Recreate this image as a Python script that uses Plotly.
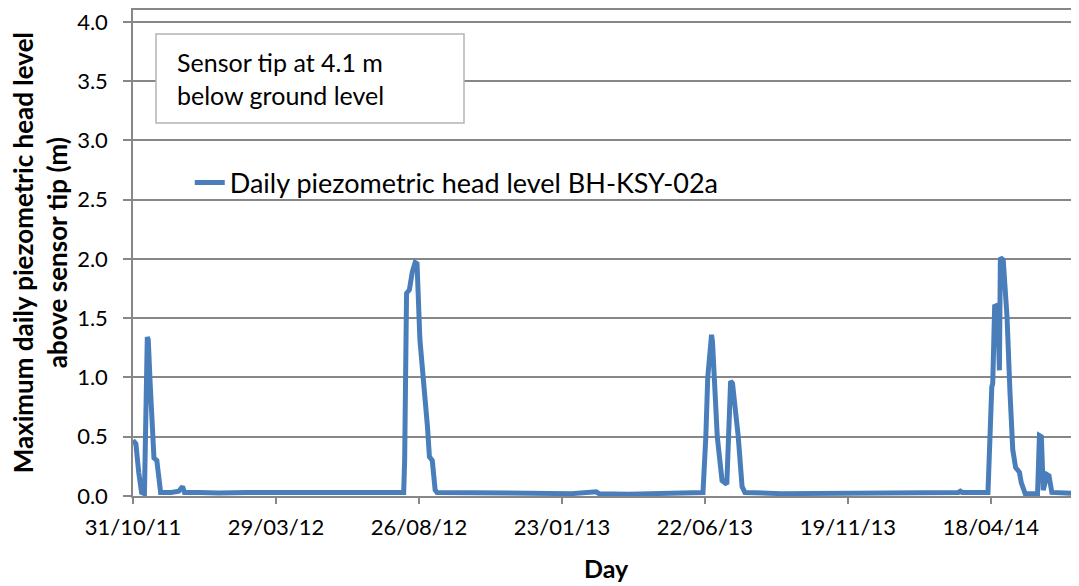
import pandas as pd
import plotly.graph_objects as go

# days since the first reading (31/10/11) and the maximum daily head (m)
start_date = "2011-10-31"
day_offset = [
    0, 3, 6, 9, 12, 13, 15, 16, 18, 21, 22, 25, 27, 29, 40, 48, 52, 54, 70, 90,
    120, 150, 180, 210, 240, 270, 283,
    284, 285, 287, 290, 293, 296, 298, 301, 304, 308, 309, 311, 314, 317, 319,
    340, 380, 420, 460, 486, 489, 520, 560, 597,
    598, 601, 603, 607, 608, 613, 618, 623, 627, 629, 635, 639, 642,
    680, 720, 760, 800, 840, 866, 868, 870, 896,
    897, 901, 902, 904, 907, 909, 910, 913, 917, 920, 923, 926, 930, 932, 936,
    949, 951, 953, 955, 959, 961, 964, 980, 995,
]
head_level = [
    0.47, 0.44, 0.20, 0.03, 0.02, 0.45, 1.34, 1.32, 0.95, 0.48, 0.32, 0.30, 0.15, 0.03, 0.03, 0.04, 0.08, 0.03, 0.03, 0.025,
    0.03, 0.03, 0.03, 0.035, 0.03, 0.035, 0.03,
    0.03, 0.30, 1.71, 1.74, 1.89, 1.97, 1.96, 1.32, 0.98, 0.67, 0.58, 0.33, 0.30, 0.05, 0.03,
    0.03, 0.03, 0.025, 0.02, 0.035, 0.02, 0.015, 0.02, 0.02,
    0.03, 0.50, 1.00, 1.36, 1.30, 0.50, 0.13, 0.10, 0.97, 0.95, 0.50, 0.08, 0.03,
    0.02, 0.02, 0.02, 0.02, 0.025, 0.03, 0.04, 0.03, 0.03,
    0.03, 0.92, 0.95, 1.60, 1.61, 1.06, 2.01, 1.99, 1.51, 0.89, 0.39, 0.24, 0.20, 0.11, 0.02,
    0.02, 0.51, 0.50, 0.05, 0.18, 0.17, 0.03, 0.02, 0.02,
]

tick_dates = ["2011-10-31", "2012-03-29", "2012-08-26", "2013-01-23",
              "2013-06-22", "2013-11-19", "2014-04-18"]
tick_labels = ["31/10/11", "29/03/12", "26/08/12", "23/01/13",
               "22/06/13", "19/11/13", "18/04/14"]

dates = pd.Timestamp(start_date) + pd.to_timedelta(day_offset, unit="D")
x_end = pd.Timestamp(start_date) + pd.Timedelta(days=992.5)

font = "Lato"
grid = "#878787"

fig = go.Figure()
fig.add_trace(go.Scatter(
    x=dates,
    y=head_level,
    mode="lines",
    name="Daily piezometric head level BH-KSY-02a",
    line=dict(color="#4a7ebb", width=5),
))

# page body adds an 8px offset, so the figure is 8px smaller than the window
fig.update_layout(
    width=1071,
    height=578,
    margin=dict(l=125, r=0, t=2, b=90),
    paper_bgcolor="white",
    plot_bgcolor="white",
    font=dict(family=font, color="black", size=22),
    showlegend=True,
    legend=dict(
        x=0.06,
        y=0.644,
        xanchor="left",
        yanchor="middle",
        bgcolor="rgba(0,0,0,0)",
        font=dict(family=font, size=27),
    ),
    xaxis={
        "type": "date",
        "range": [pd.Timestamp(start_date), x_end],
        "tickvals": tick_dates,
        "ticktext": tick_labels,
        "showgrid": False,
        "showline": True,
        "mirror": True,
        "linecolor": grid,
        "linewidth": 1.5,
        "ticks": "outside",
        "ticklen": 6,
        "tickcolor": grid,
        "tickwidth": 1.5,
        "ticklabelstandoff": 5,
        "ticklabeloverflow": "allow",
        "tickfont": {"size": 22},
    },
    yaxis={
        "range": [0, 4.1],
        "dtick": 0.5,
        "tick0": 0,
        "tickformat": ".1f",
        "showgrid": True,
        "gridcolor": grid,
        "gridwidth": 1.5,
        "zeroline": False,
        "showline": True,
        "linecolor": grid,
        "linewidth": 1.5,
        "ticks": "outside",
        "ticklen": 8,
        "tickcolor": grid,
        "tickwidth": 1.5,
        "ticklabelstandoff": 11,
        "ticklabeloverflow": "allow",
        "tickfont": {"size": 22},
    },
)

# note box
fig.add_shape(
    type="rect", xref="paper", yref="paper",
    x0=0.0243, x1=0.3499, y0=0.7675, y1=0.9506,
    line=dict(color="#b4b4b4", width=1.5),
    fillcolor="white",
    layer="above",
)
fig.add_annotation(
    xref="paper", yref="paper", x=0.0444, y=0.859,
    xanchor="left", yanchor="middle", align="left",
    text="Sensor tip at 4.1 m<br>below ground level",
    showarrow=False,
    font=dict(family=font, size=25),
)

# axis titles
fig.add_annotation(
    xref="paper", yref="paper", x=-0.098, y=0.5,
    xanchor="center", yanchor="middle", textangle=-90,
    text="<b>Maximum daily piezometric head level<br>above sensor tip (m)</b>",
    showarrow=False,
    font=dict(family=font, size=26),
)
fig.add_annotation(
    xref="paper", yref="paper", x=0.5, y=-0.148,
    xanchor="center", yanchor="middle",
    text="<b>Day</b>",
    showarrow=False,
    font=dict(family=font, size=25),
)

fig.write_html("out.html")
